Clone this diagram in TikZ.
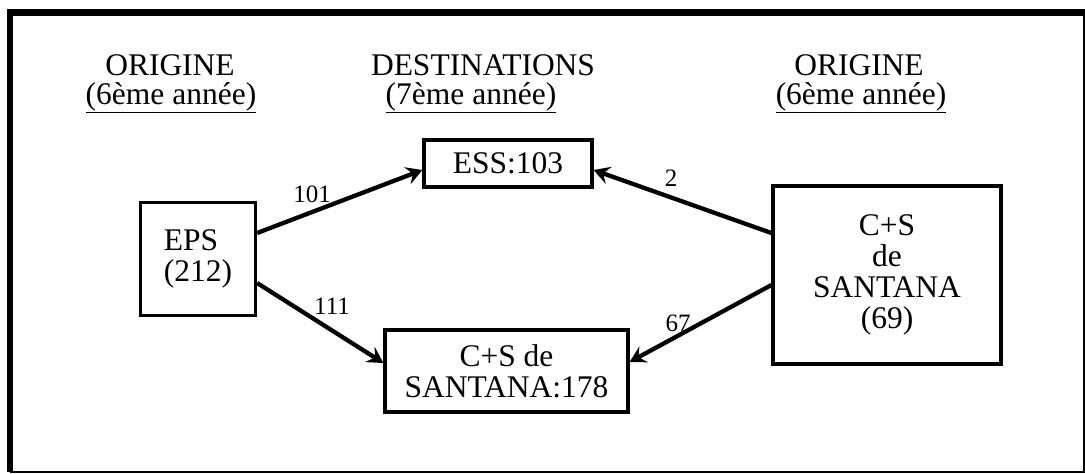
\documentclass[tikz,border=0pt]{standalone}
\usepackage{fontspec}
\setmainfont{Liberation Serif}
\usetikzlibrary{arrows.meta,calc}
\begin{document}
\begin{tikzpicture}[x=1pt,y=-1pt,
  box/.style={draw,line width=3.2pt,inner sep=0pt,align=center,font=\fontsize{31.5}{31}\selectfont},
  hdr/.style={font=\fontsize{31.5}{31}\selectfont,anchor=base,inner sep=0pt},
  lbl/.style={font=\fontsize{25}{25}\selectfont,inner sep=0pt},
  flow/.style={line width=4.3pt,-{Stealth[length=16pt,width=18pt,inset=6pt]}}]
\useasboundingbox (0,0) rectangle (1085,474);
% frame
\draw[line width=6.5pt] (10,472) -- (10,12.5) -- (1085,12.5);
\draw[line width=2pt] (10,472) -- (1084,472) -- (1084,12.5);
% headers
\node[hdr] (o1) at (170,75) {ORIGINE};
\node[hdr] (o1s) at (171,104) {\underline{(6ème année)}};
\node[hdr] (d) at (483,75) {DESTINATIONS};
\node[hdr] (ds) at (471,104) {\underline{(7ème année)}};
\node[hdr] (o2) at (859,75) {ORIGINE};
\node[hdr] (o2s) at (861,104) {\underline{(6ème année)}};
% boxes
\node[box,minimum width=168pt,minimum height=47pt] (ess) at (508,163.5) {ESS:103};
\node[box,minimum width=115pt,minimum height=113pt,align=left] (eps) at (198,259) {EPS\\(212)\hspace{6pt}};
\node[box,minimum width=243pt,minimum height=82pt] (cs) at (506.5,371) {C+S de\\SANTANA:178};
\node[box,minimum width=228pt,minimum height=178pt] (san) at (887,275) {C+S\\de\\SANTANA\\(69)};
% arrows
\draw[flow] ($(eps.east)+(0,-26)$) -- ($(ess.west)+(0,6.5)$);
\draw[flow] ($(eps.east)+(0,24)$) -- ($(cs.west)+(0,-8)$);
\draw[flow] ($(san.west)+(0,-42)$) -- ($(ess.east)+(0,6.5)$);
\draw[flow] ($(san.west)+(0,10)$) -- ($(cs.east)+(0,-9)$);
% labels
\node[lbl] (l101) at (312,194) {101};
\node[lbl] (l111) at (332,306) {111};
\node[lbl] (l2) at (671,178) {2};
\node[lbl] (l67) at (678,323) {67};
\end{tikzpicture}
\end{document}
